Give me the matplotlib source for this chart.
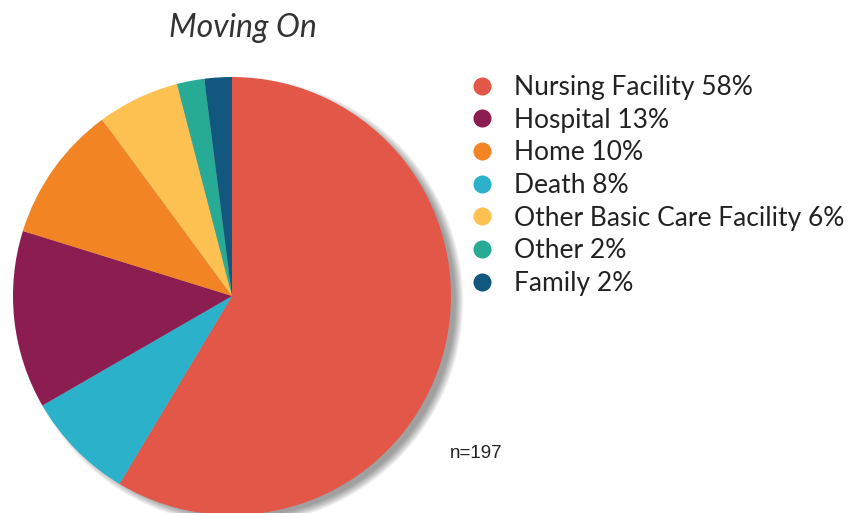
import matplotlib.pyplot as plt
from matplotlib.lines import Line2D
from matplotlib.patches import Circle

categories = ["Nursing Facility", "Hospital", "Home", "Death",
              "Other Basic Care Facility", "Other", "Family"]
percents = [58, 13, 10, 8, 6, 2, 2]
colors = ["#E35749", "#8C1D51", "#F28424", "#2BB2CA", "#FDC151", "#28AB94", "#12577E"]
# order of the slices clockwise from 12 o'clock
pie_order = ["Nursing Facility", "Death", "Hospital", "Home",
             "Other Basic Care Facility", "Other", "Family"]
n_total = 197

W, H = 861, 513
fig = plt.figure(figsize=(W / 100, H / 100), dpi=100)

# pie axes: radius 1 -> 219 px, centre at (232, 296) px from top-left
r_px = 219
lim = 1.15
cx, cy = 232, H - 296
side = 2 * lim * r_px
ax = fig.add_axes([(cx - lim * r_px) / W, (cy - lim * r_px) / H, side / W, side / H])

# soft shadow, lower right
for k in range(10):
    ax.add_patch(Circle((0.035, -0.025), 0.985 + k * 0.004, color="black",
                        alpha=0.045, lw=0, zorder=0))

idx = [categories.index(c) for c in pie_order]
ax.pie([percents[i] for i in idx], colors=[colors[i] for i in idx],
       startangle=90, counterclock=False, radius=1.0,
       wedgeprops=dict(linewidth=0), center=(0, 0), frame=True)
ax.set_xlim(-lim, lim)
ax.set_ylim(-lim, lim)
ax.set_aspect("equal")
ax.axis("off")

fig.text(243 / W, 1 - 28 / H, "Moving On", fontsize=23, style="italic",
         family=["Lato", "DejaVu Sans"], color="#333333",
         ha="center", va="center")

handles = [Line2D([], [], marker="o", linestyle="none", markersize=13,
                  markerfacecolor=c, markeredgewidth=0) for c in colors]
labels = [f"{c} {p}%" for c, p in zip(categories, percents)]
fig.legend(handles, labels, loc="upper left", bbox_to_anchor=(470 / W, 1 - 75 / H),
           frameon=False, prop=dict(family="Lato", size=19), labelcolor="#222222",
           handletextpad=0.75, labelspacing=0.29, handlelength=0.9, borderpad=0,
           borderaxespad=0)

fig.text(450 / W, 1 - 453 / H, f"n={n_total}", fontsize=13.5,
         family=["Liberation Sans", "DejaVu Sans"],
         color="#222222", ha="left", va="center")

fig.savefig("out.png", dpi=100)
